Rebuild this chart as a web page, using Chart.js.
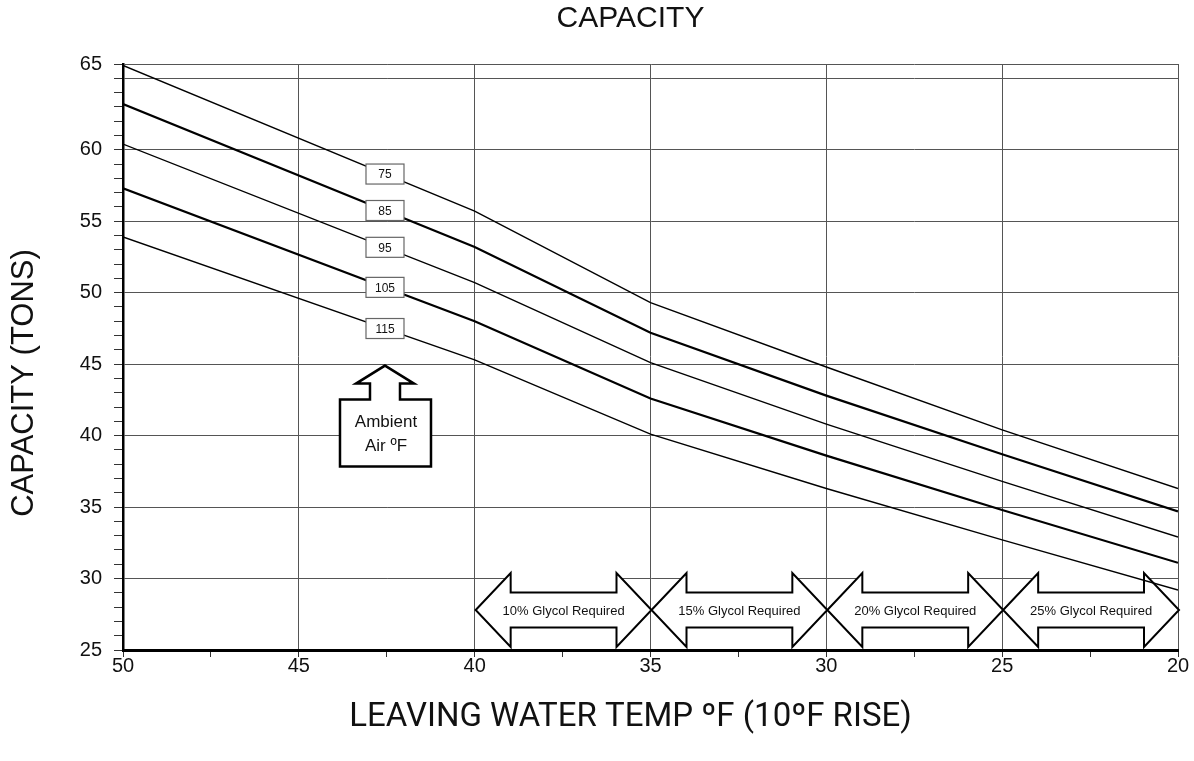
<!DOCTYPE html>
<html>
<head>
<meta charset="utf-8">
<script src="https://cdn.jsdelivr.net/npm/chart.js@4.4.0/dist/chart.umd.min.js"></script>
<style>
  html, body { margin: 0; padding: 0; background: #fff; }
</style>
</head>
<body>
<canvas id="capChart" width="1194" height="761"></canvas>
<script>
// leaving water temp (x) and capacity in tons for each ambient air temp
const leavingTemp = [50, 40, 35, 30, 25, 20];
const ambientLabels = ['75', '85', '95', '105', '115'];
const cap75  = [65.9, 55.7, 49.3, 44.8, 40.4, 36.3];
const cap85  = [63.2, 53.2, 47.2, 42.8, 38.7, 34.7];
const cap95  = [60.4, 50.7, 45.1, 40.8, 36.8, 32.9];
const cap105 = [57.3, 48.0, 42.6, 38.6, 34.8, 31.1];
const cap115 = [53.9, 45.3, 40.1, 36.3, 32.7, 29.2];

// glycol bands along the bottom
const glycolFrom = [40, 35, 30, 25];
const glycolTo   = [35, 30, 25, 20];
const glycolText = ['10% Glycol Required', '15% Glycol Required', '20% Glycol Required', '25% Glycol Required'];

// where the ambient labels sit on the curves / the ambient pointer
const labelTemp = 42.55;
const pointerTemp = 42.55;
const pointerCap = 44.9;

const yTopValue = 66;
const yTopLabel = '65';

const allCaps = [cap75, cap85, cap95, cap105, cap115];
const widths = [1.4, 2.2, 1.4, 2.2, 1.4];

const datasets = allCaps.map((caps, i) => ({
  label: ambientLabels[i],
  data: leavingTemp.map((t, j) => ({ x: t, y: caps[j] })),
  borderColor: '#000',
  borderWidth: widths[i],
  pointRadius: 0,
  tension: 0,
  fill: false
}));

function capAt(caps, t) {
  for (let j = 0; j < leavingTemp.length - 1; j++) {
    let a = leavingTemp[j], b = leavingTemp[j + 1];
    if (t <= a && t >= b) {
      return caps[j] + (caps[j + 1] - caps[j]) * (a - t) / (a - b);
    }
  }
  return caps[0];
}

const decor = {
  id: 'decor',
  beforeDatasetsDraw(chart) {
    const { ctx, scales: { x, y } } = chart;
    ctx.save();
    ctx.lineWidth = 2;
    ctx.strokeStyle = '#000';
    ctx.lineJoin = 'miter';

    // double arrows for glycol
    const cy = y.getPixelForValue(25) - 40;
    const H = 37, S = 17.5, L = 35;
    for (let i = 0; i < glycolFrom.length; i++) {
      let xl = x.getPixelForValue(glycolFrom[i]) + 1;
      let xr = x.getPixelForValue(glycolTo[i]) + 1;
      ctx.fillStyle = '#fff';
      ctx.fillRect(xl + L, cy - H, xr - xl - 2 * L, 2 * H);
      ctx.beginPath();
      ctx.moveTo(xl, cy);
      ctx.lineTo(xl + L, cy - H);
      ctx.lineTo(xl + L, cy - S);
      ctx.lineTo(xr - L, cy - S);
      ctx.lineTo(xr - L, cy - H);
      ctx.lineTo(xr, cy);
      ctx.lineTo(xr - L, cy + H);
      ctx.lineTo(xr - L, cy + S);
      ctx.lineTo(xl + L, cy + S);
      ctx.lineTo(xl + L, cy + H);
      ctx.closePath();
      ctx.fill();
      ctx.stroke();
      ctx.fillStyle = '#111';
      ctx.font = '13px "Liberation Sans", Arial, sans-serif';
      ctx.textAlign = 'center';
      ctx.textBaseline = 'middle';
      ctx.fillText(glycolText[i], (xl + xr) / 2, cy + 1);
    }

    // ambient air pointer
    const px = x.getPixelForValue(pointerTemp);
    const py = y.getPixelForValue(pointerCap);
    ctx.beginPath();
    ctx.moveTo(px, py);
    ctx.lineTo(px + 29, py + 18);
    ctx.lineTo(px + 15, py + 18);
    ctx.lineTo(px + 15, py + 34);
    ctx.lineTo(px + 46, py + 34);
    ctx.lineTo(px + 46, py + 101);
    ctx.lineTo(px - 45, py + 101);
    ctx.lineTo(px - 45, py + 34);
    ctx.lineTo(px - 15, py + 34);
    ctx.lineTo(px - 15, py + 18);
    ctx.lineTo(px - 29, py + 18);
    ctx.closePath();
    ctx.fillStyle = '#fff';
    ctx.fill();
    ctx.lineWidth = 2.5;
    ctx.stroke();
    ctx.fillStyle = '#111';
    ctx.font = '17px "Liberation Sans", Arial, sans-serif';
    ctx.textAlign = 'center';
    ctx.textBaseline = 'middle';
    ctx.fillText('Ambient', px + 1, py + 57);
    ctx.fillText('Air ºF', px + 1, py + 81);
    ctx.restore();
  },
  afterDatasetsDraw(chart) {
    const { ctx, scales: { x, y } } = chart;
    ctx.save();
    const bx = x.getPixelForValue(labelTemp);
    for (let i = 0; i < allCaps.length; i++) {
      let by = y.getPixelForValue(capAt(allCaps[i], labelTemp));
      ctx.fillStyle = '#fff';
      ctx.fillRect(bx - 19, by - 10, 38, 20);
      ctx.strokeStyle = '#666';
      ctx.lineWidth = 1.2;
      ctx.strokeRect(bx - 19, by - 10, 38, 20);
      ctx.fillStyle = '#111';
      ctx.font = '12px "Liberation Sans", Arial, sans-serif';
      ctx.textAlign = 'center';
      ctx.textBaseline = 'middle';
      ctx.fillText(ambientLabels[i], bx, by + 1);
    }
    ctx.restore();
  },
  afterDraw(chart) {
    const { ctx, chartArea } = chart;
    const mid = (chartArea.left + chartArea.right) / 2 - 20;
    ctx.save();
    ctx.fillStyle = '#111';
    ctx.textAlign = 'center';
    ctx.textBaseline = 'middle';
    ctx.font = '30px "Liberation Sans", Arial, sans-serif';
    ctx.fillText('CAPACITY', mid, 19);
    ctx.font = '33px Roboto, sans-serif';
    ctx.fillText('LEAVING WATER TEMP ºF (10ºF RISE)', mid, 718);
    ctx.translate(24, (chartArea.top + chartArea.bottom) / 2 + 26);
    ctx.rotate(-Math.PI / 2);
    ctx.font = '31px "Liberation Sans", Arial, sans-serif';
    ctx.fillText('CAPACITY (TONS)', 0, 0);
    ctx.restore();
  }
};

new Chart(document.getElementById('capChart'), {
  type: 'line',
  data: { datasets: datasets },
  options: {
    responsive: false,
    animation: false,
    layout: { padding: { top: 64, right: 16, left: 0, bottom: 0 } },
    plugins: {
      legend: { display: false },
      tooltip: { enabled: false }
    },
    scales: {
      x: {
        type: 'linear',
        reverse: true,
        min: 20,
        max: 50,
        afterFit: s => { s.height = 111; },
        ticks: {
          stepSize: 2.5,
          color: '#111',
          font: { family: '"Liberation Sans", Arial, sans-serif', size: 20 },
          padding: -3,
          maxRotation: 0,
          autoSkip: false,
          callback: v => (v % 5 === 0 ? String(v) : '')
        },
        grid: {
          color: c => (c.tick && c.tick.value % 5 === 0 ? '#555' : 'rgba(0,0,0,0)'),
          tickColor: '#333',
          lineWidth: 1,
          tickLength: 7
        },
        border: { color: '#000', width: 3 }
      },
      y: {
        type: 'linear',
        min: 25,
        max: yTopValue,
        afterFit: s => { s.width = 123; },
        ticks: {
          stepSize: 1,
          color: '#111',
          font: { family: '"Liberation Sans", Arial, sans-serif', size: 20 },
          padding: 12,
          autoSkip: false,
          callback: v => {
            if (v === yTopValue) return yTopLabel;
            if (v % 5 === 0 && v !== 65) return String(v);
            return '';
          }
        },
        grid: {
          color: c => (c.tick && (c.tick.value % 5 === 0 || c.tick.value === yTopValue) ? '#555' : 'rgba(0,0,0,0)'),
          tickColor: '#333',
          lineWidth: 1,
          tickLength: 9
        },
        border: { color: '#000', width: 2.5 }
      }
    }
  },
  plugins: [decor]
});
</script>
</body>
</html>
